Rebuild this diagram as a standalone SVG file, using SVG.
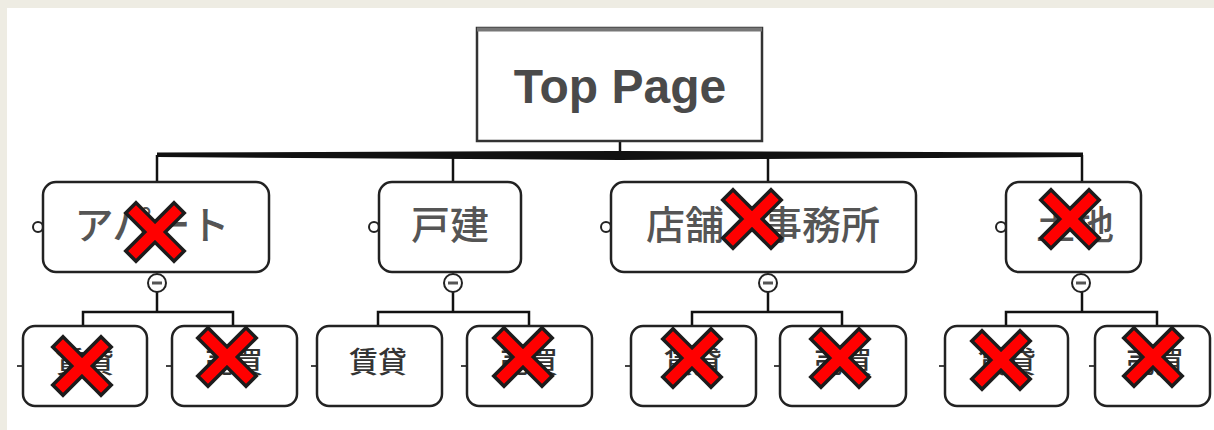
<svg xmlns="http://www.w3.org/2000/svg" xmlns:xlink="http://www.w3.org/1999/xlink" width="1214" height="430" viewBox="0 0 1214 430">
<style>
.box{fill:#fff;stroke:#222;stroke-width:2.5}
.lbl{font-family:"Noto Sans CJK JP","Noto Sans",sans-serif;font-size:39px;font-weight:500;fill:#555;text-anchor:middle;dominant-baseline:central}
.sub{font-family:"Noto Sans CJK JP","Noto Sans",sans-serif;font-size:29px;font-weight:500;fill:#333;text-anchor:middle;dominant-baseline:central}
.top{font-family:"Liberation Sans",Arial,sans-serif;font-weight:bold;font-size:48px;fill:#4a4a4a;text-anchor:middle}
.ln{stroke:#111;stroke-width:2.5;fill:none}
.knob{fill:#fff;stroke:#222;stroke-width:2}
.minus{stroke:#555;stroke-width:3}
.stub{stroke:#444;stroke-width:2}
</style>
<defs>
<g id="xmark">
<path d="M-19,-19L19,19M19,-19L-19,19" stroke="#1c1c1c" stroke-width="18" stroke-linecap="square" stroke-linejoin="round"/>
<path d="M-19,-19L19,19M19,-19L-19,19" stroke="#ff0000" stroke-width="11" stroke-linecap="square"/>
</g>
</defs>
<rect x="0" y="0" width="1214" height="430" fill="#eeece3"/>
<rect x="7" y="8" width="1207" height="422" fill="#fff"/>

<g id="connectors">
<line class="ln" x1="620" y1="130" x2="620" y2="153"/>
<path d="M157,152.5 L620,151 L1083,152.5 L1083,157 L620,160 L157,157 Z" fill="#111"/>
<line class="ln" x1="157" y1="155" x2="157" y2="183"/>
<line class="ln" x1="453" y1="155" x2="453" y2="183"/>
<line class="ln" x1="768" y1="155" x2="768" y2="183"/>
<line class="ln" x1="1082" y1="155" x2="1082" y2="183"/>
<path class="ln" d="M157,292V312M83,326V312H233V326"/>
<path class="ln" d="M453,292V312M378,326V312H529V326"/>
<path class="ln" d="M768,292V312M692,326V312H842V326"/>
<path class="ln" d="M1082,292V312M1006,326V312H1157V326"/>
</g>

<g id="top-page">
<rect x="477" y="28" width="285" height="113" fill="#fff" stroke="#333" stroke-width="2.5"/>
<line x1="477" y1="29.5" x2="762" y2="29.5" stroke="#777" stroke-width="4"/>
<text class="top" x="620" y="103">Top Page</text>
</g>

<g id="apart">
<circle class="knob" cx="38" cy="227" r="5"/>
<rect class="box" x="43" y="182" width="226" height="90" rx="13"/>
<text class="lbl" x="152" y="222">アパート</text>
<circle class="knob" cx="157" cy="283" r="9"/>
<line class="minus" x1="152" y1="283" x2="162" y2="283"/>
</g>
<g id="kodate">
<circle class="knob" cx="374" cy="227" r="5"/>
<rect class="box" x="379" y="182" width="142" height="90" rx="13"/>
<text class="lbl" x="450" y="222">戸建</text>
<circle class="knob" cx="453" cy="283" r="9"/>
<line class="minus" x1="448" y1="283" x2="458" y2="283"/>
</g>
<g id="tenpo">
<circle class="knob" cx="606" cy="227" r="5"/>
<rect class="box" x="611" y="182" width="305" height="90" rx="13"/>
<text class="lbl" x="763" y="222">店舗・事務所</text>
<circle class="knob" cx="768" cy="283" r="9"/>
<line class="minus" x1="763" y1="283" x2="773" y2="283"/>
</g>
<g id="tochi">
<circle class="knob" cx="1001" cy="227" r="5"/>
<rect class="box" x="1006" y="182" width="135" height="90" rx="13"/>
<text class="lbl" x="1075" y="222">土地</text>
<circle class="knob" cx="1081" cy="283" r="9"/>
<line class="minus" x1="1076" y1="283" x2="1086" y2="283"/>
</g>

<g id="apart-chintai"><line class="stub" x1="17" y1="366" x2="23" y2="366"/><rect class="box" x="23" y="326" width="124" height="80" rx="12"/><text class="sub" x="85" y="360">賃貸</text></g>
<g id="apart-baibai"><line class="stub" x1="166" y1="366" x2="172" y2="366"/><rect class="box" x="172" y="326" width="125" height="80" rx="12"/><text class="sub" x="234" y="360">売買</text></g>
<g id="kodate-chintai"><line class="stub" x1="311" y1="366" x2="317" y2="366"/><rect class="box" x="317" y="326" width="125" height="80" rx="12"/><text class="sub" x="378" y="360">賃貸</text></g>
<g id="kodate-baibai"><line class="stub" x1="461" y1="366" x2="467" y2="366"/><rect class="box" x="467" y="326" width="125" height="80" rx="12"/><text class="sub" x="529" y="360">売買</text></g>
<g id="tenpo-chintai"><line class="stub" x1="625" y1="366" x2="631" y2="366"/><rect class="box" x="631" y="326" width="125" height="80" rx="12"/><text class="sub" x="693" y="360">賃貸</text></g>
<g id="tenpo-baibai"><line class="stub" x1="774" y1="366" x2="780" y2="366"/><rect class="box" x="780" y="326" width="126" height="80" rx="12"/><text class="sub" x="843" y="360">売買</text></g>
<g id="tochi-chintai"><line class="stub" x1="939" y1="366" x2="945" y2="366"/><rect class="box" x="945" y="326" width="123" height="80" rx="12"/><text class="sub" x="1007" y="360">賃貸</text></g>
<g id="tochi-baibai"><line class="stub" x1="1089" y1="366" x2="1095" y2="366"/><rect class="box" x="1095" y="326" width="115" height="80" rx="12"/><text class="sub" x="1155" y="360">売買</text></g>

<g id="x-marks">
<use xlink:href="#xmark" href="#xmark" x="155" y="232"/>
<use xlink:href="#xmark" href="#xmark" x="752" y="219"/>
<use xlink:href="#xmark" href="#xmark" x="1070" y="219"/>
<use xlink:href="#xmark" href="#xmark" x="82" y="366"/>
<use xlink:href="#xmark" href="#xmark" x="227" y="357"/>
<use xlink:href="#xmark" href="#xmark" x="523" y="357"/>
<use xlink:href="#xmark" href="#xmark" x="692" y="358"/>
<use xlink:href="#xmark" href="#xmark" x="840" y="358"/>
<use xlink:href="#xmark" href="#xmark" x="1001" y="360"/>
<use xlink:href="#xmark" href="#xmark" x="1153" y="357"/>
</g>
</svg>
